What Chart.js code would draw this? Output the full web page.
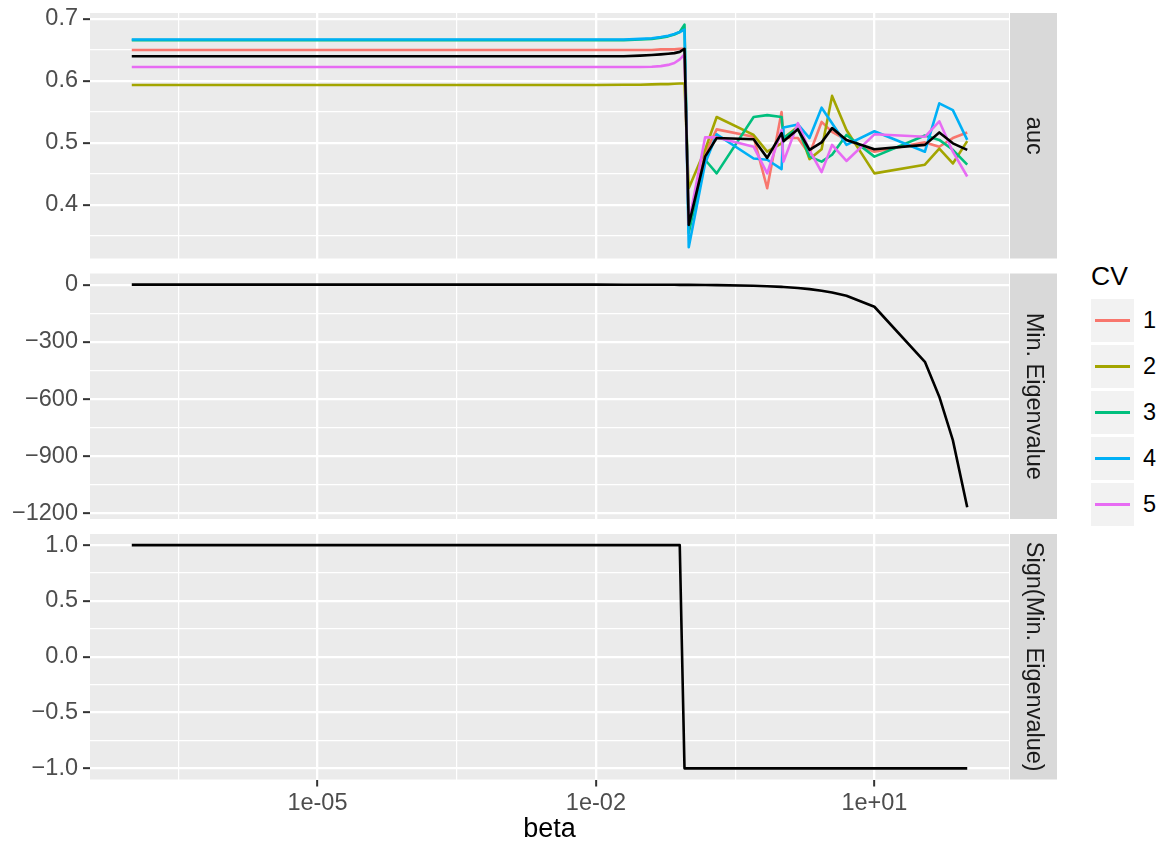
<!DOCTYPE html>
<html>
<head>
<meta charset="utf-8">
<script src="https://cdn.jsdelivr.net/npm/chart.js@4.4.1/dist/chart.umd.min.js"></script>
<style>
  body { margin: 0; background: #fff; }
  #wrap { position: relative; width: 1159px; height: 846px; font-family: "Liberation Sans", Arial, sans-serif; }
  #wrap canvas { position: absolute; left: 0; }
  #legend { position: absolute; left: 1091px; top: 263px; }
  #legend .title { font-size: 26.5px; line-height: 26.5px; color: #000; height: 36px; }
  #legend .row { display: flex; align-items: center; height: 43px; margin-bottom: 3px; }
  #legend .key { width: 43px; height: 43px; background: #F2F2F2; position: relative; }
  #legend .key span { position: absolute; left: 4px; right: 4px; top: 20px; height: 3px; }
  #legend .lab { margin-left: 9px; font-size: 23.5px; color: #000; }
</style>
</head>
<body>
<div id="wrap">
  <canvas id="aucChart" width="1060" height="260" style="top:0px"></canvas>
  <canvas id="eigChart" width="1060" height="260" style="top:260px"></canvas>
  <canvas id="signChart" width="1060" height="326" style="top:520px"></canvas>
  <div id="legend"></div>
</div>
<script>
const FONT = '"Liberation Sans", Arial, sans-serif';

// beta grid (log x axis)
let beta = [1e-7, 1e-6, 1e-5, 1e-4, 1e-3, 0.01, 0.02, 0.03, 0.04, 0.05, 0.06, 0.07, 0.08, 0.09,
            0.1, 0.15, 0.2, 0.5, 0.7, 1, 1.05, 1.5, 2, 2.7, 3.5, 5, 10, 35, 50, 70, 100];

// auc per CV fold
let auc1 = [0.650, 0.650, 0.650, 0.650, 0.650, 0.650, 0.650, 0.650, 0.650, 0.651, 0.651, 0.651, 0.652, 0.652,
            0.370, 0.483, 0.522, 0.510, 0.427, 0.550, 0.508, 0.508, 0.482, 0.534, 0.518, 0.505, 0.486, 0.501, 0.494, 0.508, 0.517];
let auc2 = [0.5935, 0.5935, 0.5935, 0.5935, 0.5935, 0.5935, 0.594, 0.594, 0.5945, 0.595, 0.595, 0.5955, 0.596, 0.596,
            0.427, 0.489, 0.542, 0.513, 0.486, 0.4995, 0.508, 0.526, 0.474, 0.490, 0.576, 0.521, 0.451, 0.465, 0.491, 0.467, 0.503];
let auc3 = [0.666, 0.666, 0.666, 0.666, 0.666, 0.666, 0.666, 0.667, 0.668, 0.670, 0.672, 0.675, 0.679, 0.691,
            0.355, 0.473, 0.451, 0.542, 0.545, 0.542, 0.508, 0.524, 0.478, 0.470, 0.481, 0.513, 0.478, 0.512, 0.505, 0.489, 0.465];
let auc4 = [0.667, 0.667, 0.667, 0.667, 0.667, 0.667, 0.667, 0.668, 0.669, 0.671, 0.673, 0.676, 0.679, 0.683,
            0.332, 0.467, 0.514, 0.475, 0.473, 0.458, 0.525, 0.530, 0.508, 0.557, 0.532, 0.497, 0.519, 0.486, 0.564, 0.553, 0.505];
let auc5 = [0.6225, 0.6225, 0.6225, 0.6225, 0.6225, 0.6225, 0.6225, 0.6225, 0.623, 0.624, 0.626, 0.629, 0.635, 0.643,
            0.370, 0.509, 0.509, 0.494, 0.451, 0.521, 0.470, 0.532, 0.488, 0.453, 0.497, 0.471, 0.514, 0.510, 0.535, 0.486, 0.446];
let aucMean = [0.640, 0.640, 0.640, 0.640, 0.640, 0.640, 0.640, 0.641, 0.642, 0.643, 0.644, 0.645, 0.647, 0.652,
               0.368, 0.478, 0.508, 0.506, 0.476, 0.516, 0.503, 0.522, 0.489, 0.501, 0.524, 0.505, 0.490, 0.497, 0.517, 0.4995, 0.489];

let minEig = [1.0, 1.0, 1.0, 1.0, 0.99, 0.88, 0.77, 0.65, 0.53, 0.42, 0.30, 0.18, 0.06, -0.05,
              -0.17, -0.76, -1.3, -4.8, -7.2, -10.7, -11.3, -16.6, -22.5, -30.6, -40, -57.5, -115, -404, -587, -815, -1167];
let signEig = [1, 1, 1, 1, 1, 1, 1, 1, 1, 1, 1, 1, 1, -1,
               -1, -1, -1, -1, -1, -1, -1, -1, -1, -1, -1, -1, -1, -1, -1, -1, -1];

let cvLabels = ['1', '2', '3', '4', '5'];
let cvColors = ['#F8766D', '#A3A500', '#00BF7D', '#00B0F6', '#E76BF3'];

// axis breaks
let xMajor = [1e-5, 1e-2, 1e1];
let xMinor = [Math.pow(10, -6.5), Math.pow(10, -3.5), Math.pow(10, -0.5)];
let xTickLabels = ['1e-05', '1e-02', '1e+01'];

let aucMajor = [0.4, 0.5, 0.6, 0.7];
let aucMinor = [0.35, 0.45, 0.55, 0.65];
let aucTickLabels = ['0.4', '0.5', '0.6', '0.7'];

let eigMajor = [-1200, -900, -600, -300, 0];
let eigMinor = [-1050, -750, -450, -150];
let eigTickLabels = ['\u22121200', '\u2212900', '\u2212600', '\u2212300', '0'];

let signMajor = [-1, -0.5, 0, 0.5, 1];
let signMinor = [-0.75, -0.25, 0.25, 0.75];
let signTickLabels = ['\u22121.0', '\u22120.5', '0.0', '0.5', '1.0'];

function pts(ys) {
  return beta.map((b, i) => ({x: b, y: ys[i]}));
}

function breakTicks(major, minor) {
  return major.map(v => ({value: v, major: true}))
    .concat(minor.map(v => ({value: v, major: false})))
    .sort((a, b) => a.value - b.value);
}

const gridStyle = {
  color: '#FFFFFF',
  lineWidth: c => (c.tick && c.tick.major) ? 2.3 : 1.2,
  tickColor: c => (c.tick && c.tick.major) ? '#333333' : 'rgba(0,0,0,0)',
  tickWidth: 2,
  tickLength: 7
};

function xScale(bottom) {
  return {
    type: 'logarithmic',
    min: Math.pow(10, -7.45),
    max: Math.pow(10, 2.45),
    afterBuildTicks(s) { s.ticks = breakTicks(xMajor, xMinor); },
    afterFit(s) {
      s.height = bottom ? 66.5 : 0;
      s.paddingLeft = 0;
      s.paddingRight = 0;
    },
    ticks: {
      display: bottom,
      autoSkip: false,
      maxRotation: 0,
      minRotation: 0,
      padding: 3,
      color: '#4D4D4D',
      font: {family: FONT, size: 23.5},
      callback(v, i, ticks) {
        const k = xMajor.indexOf(ticks[i].value);
        return k >= 0 ? xTickLabels[k] : '';
      }
    },
    grid: Object.assign({}, gridStyle, {drawTicks: bottom}),
    border: {display: false},
    title: {
      display: bottom,
      text: 'beta',
      color: '#000000',
      font: {family: FONT, size: 27},
      padding: {top: 0, bottom: 0}
    }
  };
}

function yScale(min, max, major, minor, labels) {
  return {
    type: 'linear',
    min: min,
    max: max,
    afterFit(s) {
      // fixed gutter; tick labels may overhang the panel edges
      s.width = 90;
      s.paddingTop = 0;
      s.paddingBottom = 0;
    },
    afterBuildTicks(s) { s.ticks = breakTicks(major, minor); },
    ticks: {
      autoSkip: false,
      padding: 5,
      color: '#4D4D4D',
      font: {family: FONT, size: 23.5},
      callback(v, i, ticks) {
        const k = major.indexOf(ticks[i].value);
        return k >= 0 ? labels[k] : '';
      }
    },
    grid: gridStyle,
    border: {display: false}
  };
}

// grey panel background plus the facet strip on the right
function panelPlugin(stripText) {
  return {
    id: 'panelStrip',
    beforeDraw(chart) {
      const {ctx, chartArea: a} = chart;
      ctx.save();
      ctx.fillStyle = '#EBEBEB';
      ctx.fillRect(a.left, a.top, a.right - a.left, a.bottom - a.top);
      ctx.fillStyle = '#D9D9D9';
      ctx.fillRect(a.right + 1, a.top, 47, a.bottom - a.top);
      ctx.translate(a.right + 1 + 23.5, (a.top + a.bottom) / 2);
      ctx.rotate(Math.PI / 2);
      ctx.fillStyle = '#1A1A1A';
      ctx.font = '23.5px ' + FONT;
      ctx.textAlign = 'center';
      ctx.textBaseline = 'middle';
      ctx.fillText(stripText, 0, 0);
      ctx.restore();
    }
  };
}

function lineSet(label, ys, color, order) {
  return {
    label: label,
    data: pts(ys),
    borderColor: color,
    backgroundColor: color,
    borderWidth: 2.6,
    borderJoinStyle: 'round',
    borderCapStyle: 'butt',
    pointRadius: 0,
    tension: 0,
    fill: false,
    order: order
  };
}

function makePanel(id, datasets, yOpts, stripText, pad, bottom) {
  return new Chart(document.getElementById(id).getContext('2d'), {
    type: 'line',
    data: {datasets: datasets},
    options: {
      responsive: false,
      animation: false,
      devicePixelRatio: 1,
      layout: {padding: {top: pad[0], bottom: pad[1], left: 0, right: 51}},
      plugins: {legend: {display: false}, tooltip: {enabled: false}},
      scales: {x: xScale(bottom), y: yOpts}
    },
    plugins: [panelPlugin(stripText)]
  });
}

let aucSets = [auc1, auc2, auc3, auc4, auc5].map((ys, i) => lineSet('CV ' + cvLabels[i], ys, cvColors[i], 5 - i));
aucSets.push(lineSet('mean', aucMean, '#000000', 0));

let aucChart = makePanel('aucChart', aucSets,
  yScale(0.3137, 0.7097, aucMajor, aucMinor, aucTickLabels), 'auc', [13, 1.5], false);

let eigChart = makePanel('eigChart', [lineSet('Min. Eigenvalue', minEig, '#000000', 0)],
  yScale(-1229, 59.5, eigMajor, eigMinor, eigTickLabels), 'Min. Eigenvalue', [13.5, 1], false);

let signChart = makePanel('signChart', [lineSet('Sign(Min. Eigenvalue)', signEig, '#000000', 0)],
  yScale(-1.1, 1.1, signMajor, signMinor, signTickLabels), 'Sign(Min. Eigenvalue)', [14, 0], true);

// legend for the CV folds
let legend = document.getElementById('legend');
let html = '<div class="title">CV</div>';
cvLabels.forEach((lab, i) => {
  html += '<div class="row"><div class="key"><span style="background:' + cvColors[i] + '"></span></div>' +
          '<div class="lab">' + lab + '</div></div>';
});
legend.innerHTML = html;
</script>
</body>
</html>
